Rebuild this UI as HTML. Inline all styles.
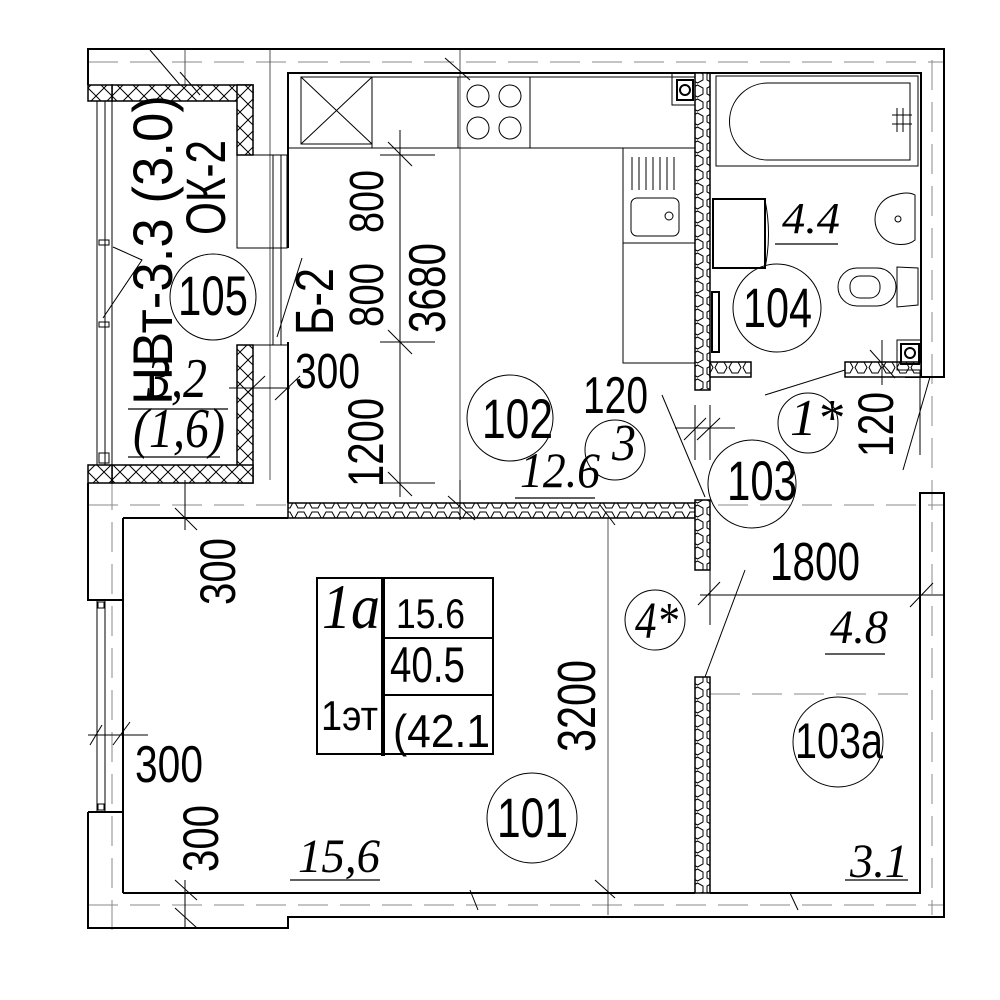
<!DOCTYPE html>
<html><head><meta charset="utf-8"><style>
html,body{margin:0;padding:0;background:#fff}
svg{display:block}
text{font-family:"Liberation Sans","DejaVu Sans",sans-serif;fill:#000}
.it{font-family:"Liberation Serif",serif;font-style:italic}
</style></head><body>
<svg width="1000" height="1000" viewBox="0 0 1000 1000" xmlns="http://www.w3.org/2000/svg">
<defs>
<pattern id="hexh" width="14" height="15" patternUnits="userSpaceOnUse">
<rect width="14" height="15" fill="#fff"/>
<polygon points="1,7.5 4,2 10,2 13,7.5 10,13 4,13" fill="none" stroke="#000" stroke-width="1"/>
</pattern>
<pattern id="hexv" width="15" height="14" patternUnits="userSpaceOnUse">
<rect width="15" height="14" fill="#fff"/>
<polygon points="7.5,1 13,4 13,10 7.5,13 2,10 2,4" fill="none" stroke="#000" stroke-width="1"/>
</pattern>
<pattern id="xh" width="16" height="16" patternUnits="userSpaceOnUse">
<rect width="16" height="16" fill="#fff"/>
<path d="M0,0L16,16M16,0L0,16" stroke="#000" stroke-width="1"/>
</pattern>
</defs>

<g stroke="#888" stroke-width="1" fill="none" stroke-dasharray="30,12">
<line x1="88" y1="62" x2="944" y2="62"/>
<line x1="88" y1="505" x2="944" y2="505"/>
<line x1="88" y1="905" x2="944" y2="905"/>
<line x1="710" y1="694" x2="920" y2="694"/>
<line x1="932" y1="60" x2="932" y2="915"/>
<line x1="112" y1="480" x2="112" y2="930"/>
</g>
<g stroke="#555" stroke-width="1" fill="none">
<line x1="270" y1="49" x2="270" y2="480"/>
<line x1="460" y1="49" x2="460" y2="518"/>
<line x1="608" y1="518" x2="608" y2="915"/>
<line x1="185" y1="50" x2="185" y2="85"/>
</g>

<g stroke="#000" stroke-width="2" fill="none">
<polyline points="88,85 88,49 944,49 944,377 905,377"/>
<polyline points="88,483 88,600 123,600"/>
<polyline points="88,812 123,812"/>
<polyline points="88,812 88,928 288,928 288,917 944,917 944,493 920,493 920,893 710,893"/>
<line x1="123" y1="518" x2="123" y2="893"/>
<line x1="123" y1="518" x2="288" y2="518"/>
<line x1="123" y1="893" x2="695" y2="893"/>
<polyline points="288,248 288,73 921,73 921,377"/>
<line x1="288" y1="342" x2="288" y2="503"/>
</g>
<g stroke="#000" stroke-width="1" fill="none">
<line x1="97" y1="600" x2="97" y2="812"/><line x1="105" y1="600" x2="105" y2="812"/>
<rect x="98" y="602" width="6" height="6"/><rect x="98" y="804" width="6" height="6"/>
<line x1="97" y1="101" x2="97" y2="465"/><line x1="105" y1="101" x2="105" y2="465"/>
<line x1="112" y1="101" x2="112" y2="465"/>
<rect x="99" y="86" width="10" height="10"/><rect x="99" y="453" width="10" height="10"/>
<rect x="99" y="240" width="10" height="5"/><rect x="99" y="322" width="10" height="5"/>
<rect x="237" y="155" width="50" height="93"/>
<rect x="273" y="155" width="8" height="190"/>
<line x1="237" y1="345" x2="288" y2="345"/>
<polyline points="113,247 142,260 103,318"/>
<line x1="277" y1="337" x2="302" y2="258"/>
</g>
<g stroke="#000" stroke-width="1.5">
<rect x="112" y="85" width="141" height="16" fill="url(#xh)"/>
<rect x="237" y="85" width="16" height="70" fill="url(#xh)"/>
<rect x="237" y="345" width="16" height="138" fill="url(#xh)"/>
<rect x="112" y="465" width="141" height="18" fill="url(#xh)"/>
<rect x="88" y="85" width="24" height="16" fill="url(#xh)"/>
<rect x="88" y="465" width="24" height="18" fill="url(#xh)"/>
</g>
<g stroke="#000" stroke-width="1.5">
<rect x="288" y="503" width="407" height="15" fill="url(#hexh)"/>
<rect x="695" y="73" width="15" height="317" fill="url(#hexv)"/>
<rect x="710" y="362" width="41" height="15" fill="url(#hexh)"/>
<rect x="845" y="362" width="76" height="15" fill="url(#hexh)"/>
<rect x="695" y="500" width="15" height="70" fill="url(#hexv)"/>
<rect x="695" y="677" width="15" height="216" fill="url(#hexv)"/>
</g>

<g stroke="#000" stroke-width="1" fill="none">
<line x1="288" y1="148" x2="695" y2="148"/>
<rect x="301" y="77" width="71" height="67"/>
<path d="M301,77L372,144M372,77L301,144"/>
<line x1="372" y1="77" x2="372" y2="148"/>
<line x1="372" y1="77" x2="695" y2="77"/>
<rect x="458" y="77" width="72" height="71"/>
<circle cx="478" cy="96" r="11"/><circle cx="510" cy="96" r="11"/>
<circle cx="478" cy="128" r="11"/><circle cx="510" cy="128" r="11"/>
<rect x="623" y="148" width="72" height="95"/>
<rect x="623" y="243" width="72" height="120"/>
<path d="M632,157v33M639,157v33M646,157v33M653,157v33M660,157v33M667,157v33M674,157v33"/>
<rect x="631" y="198" width="48" height="38" rx="6"/>
<circle cx="669" cy="216" r="4"/>
<rect x="672" y="73" width="23" height="32"/>
<rect x="677" y="80" width="16" height="20" stroke-width="2"/>
<circle cx="685" cy="90" r="5" stroke-width="2"/>
<rect x="716" y="76" width="202" height="90"/>
<path d="M768,83H910V160H768A38,38 0 0 1 768,83Z"/>
<path d="M897,108V132M903,108V132M892,115H912M892,124H912"/>
<rect x="713" y="199" width="52" height="69" stroke-width="2"/>
<path d="M765,200Q772,234 765,268"/>
<path d="M915,195V240Q908,246 895,244A25,25 0 0 1 895,195Q908,191 915,195Z"/>
<circle cx="898" cy="219" r="3"/>
<path d="M918,268V305L897,307V267Z"/>
<rect x="838" y="268" width="58" height="38" rx="19"/>
<rect x="850" y="276" width="30" height="22" rx="10"/>
<rect x="712" y="292" width="7" height="60" stroke-width="2"/>
<rect x="897" y="340" width="24" height="30"/>
<rect x="901" y="344" width="18" height="20" stroke-width="2"/>
<circle cx="910" cy="353" r="5" stroke-width="2"/>
</g>

<g stroke="#000" stroke-width="1" fill="none">
<line x1="400" y1="130" x2="400" y2="497"/>
<line x1="380" y1="155" x2="435" y2="155"/><line x1="388" y1="142" x2="412" y2="166"/>
<line x1="380" y1="342" x2="435" y2="342"/><line x1="388" y1="330" x2="412" y2="354"/>
<line x1="380" y1="483" x2="435" y2="483"/><line x1="388" y1="472" x2="412" y2="496"/>
<line x1="229" y1="388" x2="290" y2="388"/><line x1="240" y1="400" x2="265" y2="376"/>
<line x1="275" y1="400" x2="300" y2="376"/>
<line x1="185" y1="480" x2="185" y2="530"/><line x1="175" y1="508" x2="197" y2="530"/>
<line x1="185" y1="880" x2="185" y2="928"/><line x1="175" y1="880" x2="197" y2="900"/><line x1="175" y1="908" x2="197" y2="928"/>
<line x1="88" y1="735" x2="148" y2="735"/><line x1="90" y1="745" x2="102" y2="725"/><line x1="113" y1="745" x2="130" y2="722"/>
<line x1="460" y1="480" x2="460" y2="520"/><line x1="448" y1="496" x2="475" y2="520"/>
<line x1="600" y1="505" x2="615" y2="525"/>
<line x1="595" y1="880" x2="615" y2="898"/>
<line x1="470" y1="890" x2="478" y2="910"/>
<line x1="790" y1="893" x2="798" y2="910"/>
<line x1="150" y1="50" x2="180" y2="85"/><line x1="180" y1="72" x2="200" y2="95"/>
<line x1="445" y1="58" x2="470" y2="80"/>
<line x1="695" y1="405" x2="695" y2="460"/><line x1="710" y1="405" x2="710" y2="460"/>
<line x1="675" y1="428" x2="735" y2="428"/><line x1="684" y1="440" x2="706" y2="418"/><line x1="697" y1="440" x2="720" y2="418"/>
<line x1="662" y1="395" x2="705" y2="497"/>
<line x1="765" y1="395" x2="845" y2="370"/>
<line x1="882" y1="340" x2="882" y2="385"/><line x1="870" y1="350" x2="895" y2="378"/>
<line x1="920" y1="370" x2="920" y2="455"/><line x1="930" y1="377" x2="903" y2="470"/>
<line x1="700" y1="595" x2="944" y2="595"/>
<line x1="710" y1="560" x2="710" y2="625"/>
<line x1="698" y1="605" x2="720" y2="582"/><line x1="910" y1="607" x2="933" y2="583"/>
<line x1="745" y1="570" x2="705" y2="677"/>
</g>

<g stroke="#000" stroke-width="1" fill="none">
<circle cx="213" cy="297" r="43"/>
<circle cx="510" cy="418" r="43"/>
<circle cx="615" cy="450" r="30"/>
<circle cx="752" cy="484" r="44"/>
<circle cx="808" cy="423" r="30"/>
<circle cx="777" cy="308" r="44"/>
<circle cx="655" cy="620" r="30"/>
<circle cx="838" cy="742" r="45"/>
<circle cx="532" cy="818" r="45"/>
</g>

<g stroke="#000" fill="none">
<rect x="317" y="578" width="176" height="176" stroke-width="2"/>
<line x1="383" y1="578" x2="383" y2="756" stroke-width="4"/>
<line x1="383" y1="638" x2="493" y2="638" stroke-width="2"/>
<line x1="383" y1="695" x2="493" y2="695" stroke-width="2"/>
</g>

<g stroke="#000" stroke-width="1.2">
<line x1="128" y1="409" x2="228" y2="409"/>
<line x1="128" y1="457" x2="220" y2="457"/>
<line x1="515" y1="498" x2="595" y2="498"/>
<line x1="775" y1="244" x2="838" y2="244"/>
<line x1="825" y1="654" x2="885" y2="654"/>
<line x1="845" y1="880" x2="908" y2="880"/>
<line x1="290" y1="880" x2="380" y2="880"/>
</g>

<g>
<text transform="translate(172,405) rotate(-90)" font-size="56" textLength="310" lengthAdjust="spacingAndGlyphs">НВт-3.3 (3.0)</text>
<text transform="translate(225,235) rotate(-90)" font-size="56" textLength="95" lengthAdjust="spacingAndGlyphs">ОК-2</text>
<text x="178" y="315" font-size="56" textLength="70" lengthAdjust="spacingAndGlyphs">105</text>
<text transform="translate(333,335) rotate(-90)" font-size="54" textLength="67" lengthAdjust="spacingAndGlyphs">Б-2</text>
<text transform="translate(383,233) rotate(-90)" font-size="48" textLength="63" lengthAdjust="spacingAndGlyphs">800</text>
<text transform="translate(383,327) rotate(-90)" font-size="48" textLength="64" lengthAdjust="spacingAndGlyphs">800</text>
<text transform="translate(445,333) rotate(-90)" font-size="52" textLength="90" lengthAdjust="spacingAndGlyphs">3680</text>
<text x="295" y="388" font-size="49" textLength="65" lengthAdjust="spacingAndGlyphs">300</text>
<text transform="translate(383,487) rotate(-90)" font-size="50" textLength="89" lengthAdjust="spacingAndGlyphs">1200</text>
<text x="482" y="438" font-size="56" textLength="71" lengthAdjust="spacingAndGlyphs">102</text>
<text x="583" y="413" font-size="52" textLength="65" lengthAdjust="spacingAndGlyphs">120</text>
<text x="727" y="500" font-size="56" textLength="70" lengthAdjust="spacingAndGlyphs">103</text>
<text x="743" y="327" font-size="56" textLength="69" lengthAdjust="spacingAndGlyphs">104</text>
<text transform="translate(893,457) rotate(-90)" font-size="50" textLength="65" lengthAdjust="spacingAndGlyphs">120</text>
<text x="770" y="580" font-size="54" textLength="90" lengthAdjust="spacingAndGlyphs">1800</text>
<text transform="translate(235,605) rotate(-90)" font-size="50" textLength="67" lengthAdjust="spacingAndGlyphs">300</text>
<text x="135" y="782" font-size="52" textLength="68" lengthAdjust="spacingAndGlyphs">300</text>
<text transform="translate(218,872) rotate(-90)" font-size="50" textLength="67" lengthAdjust="spacingAndGlyphs">300</text>
<text transform="translate(595,752) rotate(-90)" font-size="54" textLength="92" lengthAdjust="spacingAndGlyphs">3200</text>
<text x="497" y="837" font-size="56" textLength="71" lengthAdjust="spacingAndGlyphs">101</text>
<text x="795" y="758" font-size="50" textLength="88" lengthAdjust="spacingAndGlyphs">103a</text>
<text x="396" y="628" font-size="42" textLength="69" lengthAdjust="spacingAndGlyphs">15.6</text>
<text x="390" y="682" font-size="50" textLength="75" lengthAdjust="spacingAndGlyphs">40.5</text>
<text x="321" y="730" font-size="42" textLength="57" lengthAdjust="spacingAndGlyphs">1эт</text>
<text x="393" y="747" font-size="46" textLength="97" lengthAdjust="spacingAndGlyphs">(42.1</text>
</g>
<g class="it">
<text x="322" y="628" font-size="64" class="it" textLength="58" lengthAdjust="spacingAndGlyphs">1a</text>
<text x="147" y="397" font-size="56" class="it" textLength="60" lengthAdjust="spacingAndGlyphs">3,2</text>
<text x="133" y="447" font-size="56" class="it" textLength="92" lengthAdjust="spacingAndGlyphs">(1,6)</text>
<text x="520" y="487" font-size="50" class="it" textLength="80" lengthAdjust="spacingAndGlyphs">12.6</text>
<text x="612" y="460" font-size="52" class="it" textLength="24" lengthAdjust="spacingAndGlyphs">3</text>
<text x="782" y="233" font-size="44" class="it" textLength="58" lengthAdjust="spacingAndGlyphs">4.4</text>
<text x="790" y="435" font-size="52" class="it" textLength="53" lengthAdjust="spacingAndGlyphs">1*</text>
<text x="635" y="638" font-size="52" class="it" textLength="43" lengthAdjust="spacingAndGlyphs">4*</text>
<text x="830" y="643" font-size="48" class="it" textLength="58" lengthAdjust="spacingAndGlyphs">4.8</text>
<text x="850" y="877" font-size="48" class="it" textLength="58" lengthAdjust="spacingAndGlyphs">3.1</text>
<text x="298" y="872" font-size="48" class="it" textLength="82" lengthAdjust="spacingAndGlyphs">15,6</text>
</g>
</svg>
</body></html>
